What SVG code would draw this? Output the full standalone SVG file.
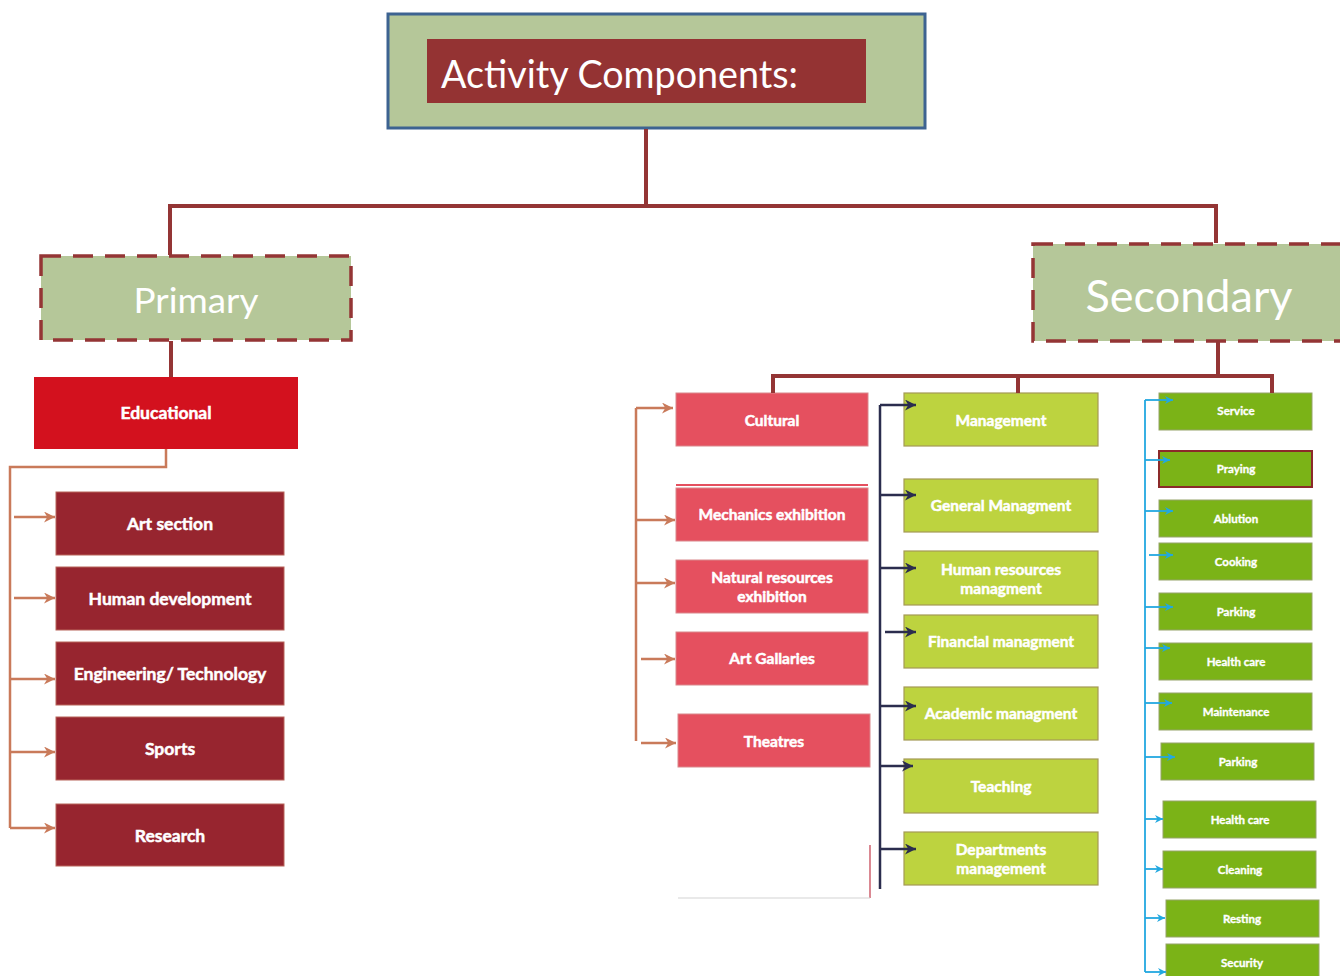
<svg xmlns="http://www.w3.org/2000/svg" width="1340" height="976" viewBox="0 0 1340 976">
<defs>
<marker id="ao" viewBox="0 0 10 10" refX="10" refY="5" markerWidth="11" markerHeight="11" markerUnits="userSpaceOnUse" orient="auto"><path d="M0,0 L10,5 L0,10 L3,5 Z" fill="#c97a5a"/></marker>
<marker id="an" viewBox="0 0 10 10" refX="10" refY="5" markerWidth="11" markerHeight="11" markerUnits="userSpaceOnUse" orient="auto"><path d="M0,0 L10,5 L0,10 L3,5 Z" fill="#2b2d4e"/></marker>
<marker id="ab" viewBox="0 0 10 10" refX="10" refY="5" markerWidth="8" markerHeight="8" markerUnits="userSpaceOnUse" orient="auto"><path d="M0,0 L10,5 L0,10 L3,5 Z" fill="#22a8e0"/></marker>
<style>
.t{font-family:Lato,"Open Sans","Liberation Sans",sans-serif;fill:#fff;text-anchor:middle;font-weight:bold;stroke:#fff;stroke-width:0.5}
.sage{fill:#b5c799}
.dash{stroke:#943535;stroke-width:3.5;stroke-dasharray:20 12}
.edu{fill:#97252f;stroke:#b8645a;stroke-width:1}
.cul{fill:#e5505f;stroke:#d9878c;stroke-width:1}
.mg{fill:#bdd33f;stroke:#a49a55;stroke-width:1.2}
.sv{fill:#7bb317;stroke:#96a36a;stroke-width:1}
.svr{fill:#7bb317;stroke:#8b2a2a;stroke-width:2}
.tree{stroke:#943535;stroke-width:4;fill:none}
.or{stroke:#c97a5a;stroke-width:2.5;fill:none}
.nv{stroke:#2b2d4e;stroke-width:2.5;fill:none}
.bl{stroke:#22a8e0;stroke-width:1.8;fill:none}
.f16{font-size:17.5px}
.f14{font-size:15.5px}
.f11{font-size:11.5px;stroke-width:0.35}
</style>
</defs>
<rect width="1340" height="976" fill="#fff"/>

<g id="title">
<rect x="388" y="14" width="537" height="114" class="sage" stroke="#3d6391" stroke-width="3"/>
<rect x="427" y="39" width="439" height="64" fill="#943333"/>
<text x="441" y="88" font-family="Lato,'Open Sans','Liberation Sans',sans-serif" font-size="38" fill="#fff" textLength="357" lengthAdjust="spacingAndGlyphs">Activity Components:</text>
</g>

<g id="primary">
<rect x="41" y="256" width="310" height="84" class="sage dash"/>
<text x="196" y="313" font-family="Lato,'Open Sans','Liberation Sans',sans-serif" font-size="34" fill="#fff" text-anchor="middle" textLength="125" lengthAdjust="spacingAndGlyphs">Primary</text>
</g>

<g id="secondary">
<rect x="1033" y="244" width="320" height="97" class="sage dash"/>
<text x="1189" y="312" font-family="Lato,'Open Sans','Liberation Sans',sans-serif" font-size="44" fill="#fff" text-anchor="middle" textLength="207" lengthAdjust="spacingAndGlyphs">Secondary</text>
</g>

<g id="educational">
<rect x="34" y="377" width="264" height="72" fill="#d3111e"/>
<text x="166" y="419" class="t f16">Educational</text>
</g>

<g id="art-section"><rect x="56" y="492" width="228" height="63" class="edu"/><text x="170" y="530" class="t f16">Art section</text></g>
<g id="human-development"><rect x="56" y="567" width="228" height="63" class="edu"/><text x="170" y="605" class="t f16">Human development</text></g>
<g id="engineering"><rect x="56" y="642" width="228" height="63" class="edu"/><text x="170" y="680" class="t f16">Engineering/ Technology</text></g>
<g id="sports"><rect x="56" y="717" width="228" height="63" class="edu"/><text x="170" y="755" class="t f16">Sports</text></g>
<g id="research"><rect x="56" y="804" width="228" height="62" class="edu"/><text x="170" y="842" class="t f16">Research</text></g>

<g id="cultural"><rect x="676" y="393" width="192" height="53" class="cul"/><text x="772" y="426" class="t f14">Cultural</text></g>
<g id="mechanics"><rect x="676" y="484" width="192" height="2" fill="#e5505f"/><rect x="676" y="488" width="192" height="53" class="cul"/><text x="772" y="520" class="t f14">Mechanics exhibition</text></g>
<g id="natural"><rect x="676" y="560" width="192" height="53" class="cul"/><text x="772" y="583" class="t f14">Natural resources</text><text x="772" y="602" class="t f14">exhibition</text></g>
<g id="art-gallaries"><rect x="676" y="632" width="192" height="53" class="cul"/><text x="772" y="664" class="t f14">Art Gallaries</text></g>
<g id="theatres"><rect x="678" y="714" width="192" height="53" class="cul"/><text x="774" y="747" class="t f14">Theatres</text></g>

<g id="management"><rect x="904" y="393" width="194" height="53" class="mg"/><text x="1001" y="426" class="t f14">Management</text></g>
<g id="general"><rect x="904" y="479" width="194" height="53" class="mg"/><text x="1001" y="511" class="t f14">General Managment</text></g>
<g id="human-resources"><rect x="904" y="551" width="194" height="54" class="mg"/><text x="1001" y="575" class="t f14">Human resources</text><text x="1001" y="594" class="t f14">managment</text></g>
<g id="financial"><rect x="904" y="615" width="194" height="53" class="mg"/><text x="1001" y="647" class="t f14">Financial managment</text></g>
<g id="academic"><rect x="904" y="687" width="194" height="53" class="mg"/><text x="1001" y="719" class="t f14">Academic managment</text></g>
<g id="teaching"><rect x="904" y="759" width="194" height="54" class="mg"/><text x="1001" y="792" class="t f14">Teaching</text></g>
<g id="departments"><rect x="904" y="832" width="194" height="53" class="mg"/><text x="1001" y="855" class="t f14">Departments</text><text x="1001" y="874" class="t f14">management</text></g>

<g id="service"><rect x="1159" y="393" width="153" height="37" class="sv"/><text x="1236" y="415" class="t f11">Service</text></g>
<g id="praying"><rect x="1159" y="451" width="153" height="36" class="svr"/><text x="1236" y="473" class="t f11">Praying</text></g>
<g id="ablution"><rect x="1159" y="500" width="153" height="37" class="sv"/><text x="1236" y="523" class="t f11">Ablution</text></g>
<g id="cooking"><rect x="1159" y="543" width="153" height="37" class="sv"/><text x="1236" y="566" class="t f11">Cooking</text></g>
<g id="parking1"><rect x="1159" y="593" width="153" height="37" class="sv"/><text x="1236" y="616" class="t f11">Parking</text></g>
<g id="health1"><rect x="1159" y="643" width="153" height="37" class="sv"/><text x="1236" y="666" class="t f11">Health care</text></g>
<g id="maintenance"><rect x="1159" y="693" width="153" height="37" class="sv"/><text x="1236" y="716" class="t f11">Maintenance</text></g>
<g id="parking2"><rect x="1161" y="743" width="153" height="37" class="sv"/><text x="1238" y="766" class="t f11">Parking</text></g>
<g id="health2"><rect x="1163" y="801" width="153" height="37" class="sv"/><text x="1240" y="824" class="t f11">Health care</text></g>
<g id="cleaning"><rect x="1163" y="851" width="153" height="37" class="sv"/><text x="1240" y="874" class="t f11">Cleaning</text></g>
<g id="resting"><rect x="1166" y="900" width="153" height="37" class="sv"/><text x="1242" y="923" class="t f11">Resting</text></g>
<g id="security"><rect x="1166" y="944" width="153" height="34" class="sv"/><text x="1242" y="967" class="t f11">Security</text></g>

<g id="connectors">
<path class="tree" d="M646,129 V206 M170,206 H1216 M170,204 V255 M1216,204 V243 M171,341 V377 M1218,341 V376 M773,376 H1272 M773,374 V393 M1018,374 V393 M1272,374 V393"/>
<path class="or" d="M166,449 V467 H10 V828"/>
<g class="or" marker-end="url(#ao)">
<path d="M14,517 H55"/><path d="M14,598 H55"/><path d="M10,679 H55"/><path d="M10,752 H55"/><path d="M10,828 H55"/>
</g>
<path class="or" d="M636,408 V741"/>
<g class="or" marker-end="url(#ao)">
<path d="M636,408 H673"/><path d="M636,520 H675"/><path d="M636,583 H675"/><path d="M641,659 H675"/><path d="M641,743 H676"/>
</g>
<path class="nv" d="M880,405 V889"/>
<g class="nv" marker-end="url(#an)">
<path d="M880,405 H916"/><path d="M880,495 H916"/><path d="M880,568 H916"/><path d="M885,632 H916"/><path d="M880,706 H916"/><path d="M880,766 H913"/><path d="M880,849 H916"/>
</g>
<path class="bl" d="M1145,400 V972"/>
<g class="bl" marker-end="url(#ab)">
<path d="M1145,400 H1173"/><path d="M1145,460 H1170"/><path d="M1145,511 H1173"/><path d="M1149,555 H1173"/><path d="M1145,607 H1173"/><path d="M1145,648 H1170"/><path d="M1145,703 H1172"/><path d="M1145,757 H1175"/><path d="M1145,819 H1163"/><path d="M1145,869 H1163"/><path d="M1145,918 H1165"/><path d="M1145,972 H1166"/>
</g>
<path d="M870,845 V898" stroke="#c23a4a" stroke-width="1.2" fill="none"/>
<path d="M678,898 H870" stroke="#d4d4d4" stroke-width="1.2" fill="none"/>
</g>
</svg>
